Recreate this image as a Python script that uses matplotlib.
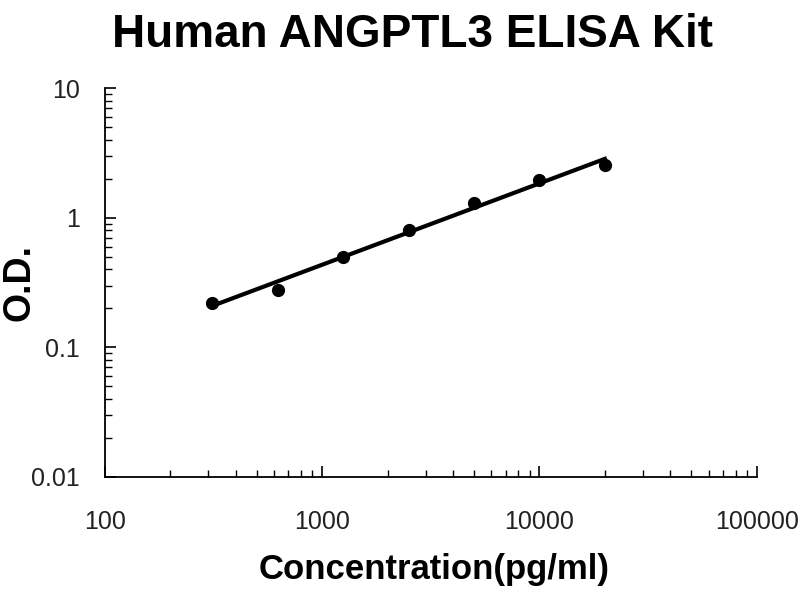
import numpy as np
import matplotlib
matplotlib.use("Agg")
import matplotlib.pyplot as plt
from matplotlib.ticker import LogLocator, NullFormatter, FixedFormatter, FixedLocator

# standard curve data
conc = [312.5, 625, 1250, 2500, 5000, 10000, 20000]
od = [0.222, 0.279, 0.50, 0.81, 1.30, 1.96, 2.56]

xticks = [100, 1000, 10000, 100000]
xtick_labels = ["100", "1000", "10000", "100000"]
yticks = [0.01, 0.1, 1, 10]
ytick_labels = ["0.01", "0.1", "1", "10"]

plt.rcParams['font.family'] = ['Liberation Sans', 'DejaVu Sans']

# power trendline, fitted in log space
k, b = np.polyfit(np.log10(conc), np.log10(od), 1)
xfit = np.array([conc[0], conc[-1]])
yfit = 10 ** (k * np.log10(xfit) + b)

fig = plt.figure(figsize=(8, 6), dpi=100)
ax = fig.add_axes([0.131, 0.205, 0.815, 0.648])

ax.plot(xfit, yfit, color="black", lw=3)
ax.plot(conc, od, "o", color="black", ms=8.5)

ax.set_xscale("log")
ax.set_yscale("log")
ax.set_xlim(100, 100000)
ax.set_ylim(0.01, 10)

ax.xaxis.set_major_locator(FixedLocator(xticks))
ax.xaxis.set_major_formatter(FixedFormatter(xtick_labels))
ax.yaxis.set_major_locator(FixedLocator(yticks))
ax.yaxis.set_major_formatter(FixedFormatter(ytick_labels))
ax.xaxis.set_minor_locator(LogLocator(base=10, subs=np.arange(2, 10)))
ax.yaxis.set_minor_locator(LogLocator(base=10, subs=np.arange(2, 10)))
ax.xaxis.set_minor_formatter(NullFormatter())
ax.yaxis.set_minor_formatter(NullFormatter())

ax.spines["top"].set_visible(False)
ax.spines["right"].set_visible(False)
ax.spines["left"].set_linewidth(1.3)
ax.spines["bottom"].set_linewidth(1.3)

ax.tick_params(which="major", direction="in", length=8, width=1.2, labelsize=18, labelcolor="#222222")
ax.tick_params(which="minor", direction="in", length=5, width=1.0)
ax.tick_params(axis="x", which="major", pad=24)
ax.tick_params(axis="y", which="major", pad=18)

ax.set_xlabel("Concentration(pg/ml)", fontsize=25, fontweight="bold")
ax.xaxis.set_label_coords(0.505, -0.195)
ax.set_ylabel("O.D.", fontsize=27, fontweight="bold")
ax.yaxis.set_label_coords(-0.103, 0.5)
fig.text(0.516, 0.978, "Human ANGPTL3 ELISA Kit", fontsize=33, fontweight="bold",
         ha="center", va="top")

plt.savefig("out.png", dpi=100)
